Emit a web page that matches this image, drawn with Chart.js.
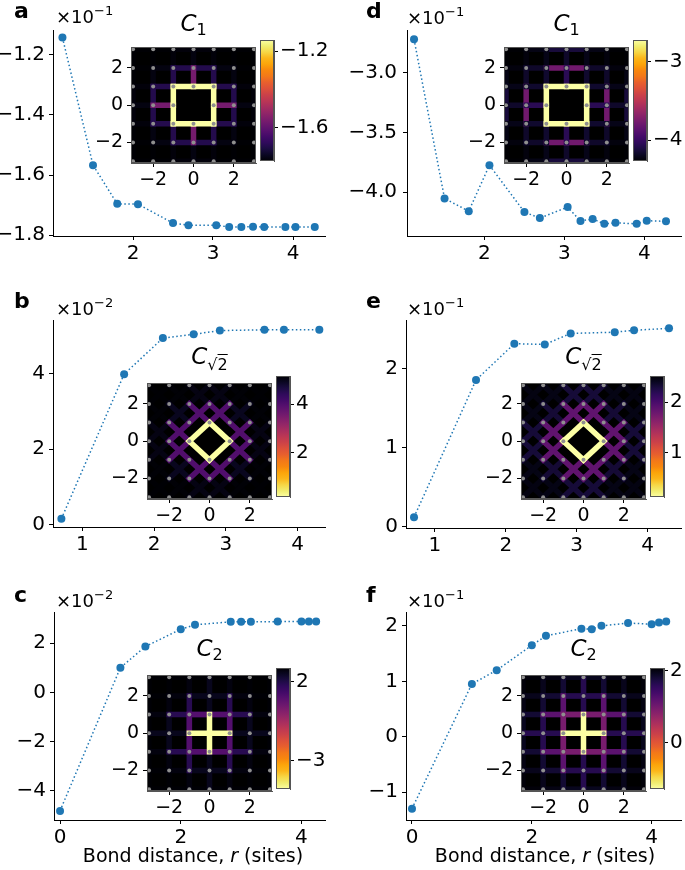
<!DOCTYPE html>
<html><head><meta charset="utf-8">
<script src="https://cdn.jsdelivr.net/npm/chart.js@4"></script>
<style>
body{margin:0;width:685px;height:870px;overflow:hidden;background:#fff;position:relative;font-family:'DejaVu Sans',sans-serif;}
canvas{position:absolute;}
.t{position:absolute;white-space:nowrap;color:#000;line-height:1;font-family:'DejaVu Sans',sans-serif;}
sub,sup{line-height:0;}
</style></head><body>
<script>
// ---------- data ----------
// C1 (panels a, d): bond distances and correlations
const rC1 = [1.118,1.5,1.803,2.062,2.5,2.693,3.041,3.202,3.354,3.5,3.64,3.905,4.031,4.272];
const valA = [-1.142,-1.567,-1.696,-1.697,-1.760,-1.767,-1.767,-1.773,-1.773,-1.772,-1.773,-1.773,-1.773,-1.773]; // x10^-1
const valD = [-2.72,-4.054,-4.16,-3.775,-4.168,-4.218,-4.126,-4.243,-4.225,-4.266,-4.258,-4.266,-4.24,-4.245]; // x10^-1
// C sqrt2 (panels b, e)
const rCs2 = [0.707,1.581,2.121,2.55,2.915,3.536,3.808,4.301];
const valB = [0.15,3.99,4.95,5.05,5.15,5.17,5.17,5.17]; // x10^-2
const valE = [0.12,1.86,2.32,2.31,2.45,2.465,2.49,2.515]; // x10^-1
// C2 (panels c, f)
const rC2 = [0,1,1.414,2,2.236,2.828,3,3.162,3.606,4,4.123,4.243];
const valC = [-4.81,1.0,1.86,2.56,2.74,2.86,2.86,2.86,2.87,2.87,2.87,2.87]; // x10^-2
const valF = [-1.295,0.953,1.2,1.65,1.82,1.95,1.94,2.0,2.05,2.03,2.06,2.08]; // x10^-1
// tick labels
const xTicksTop = [2,3,4], xTicksMid = [1,2,3,4], xTicksBot = [0,2,4];
const yTicksA = [-1.8,-1.6,-1.4,-1.2], yTicksD = [-4.0,-3.5,-3.0];
const yTicksB = [0,2,4], yTicksE = [0,1,2], yTicksC = [-4,-2,0,2], yTicksF = [-1,0,1,2];
const cbTicksA = [-1.6,-1.2], cbTicksD = [-4,-3], cbTicksB = [2,4], cbTicksE = [1,2], cbTicksC = [-3,2], cbTicksF = [0,2];
const insetTicks = [-2,0,2];

// ---------- helpers ----------
const BLUE = '#1f77b4';
const FONT = "'DejaVu Sans'";
const INF = ['#000004','#0a0722','#1b0c41','#2f0a5b','#420a68','#57106e','#6a176e','#7f1e6c','#932667','#a82e5f','#bc3754','#cc4248','#dd513a','#e8602d','#f37819','#f8870e','#fca50a','#fbb61a','#f6d746','#f1ed71','#fcffa4'];
function hex(h){return [parseInt(h.slice(1,3),16),parseInt(h.slice(3,5),16),parseInt(h.slice(5,7),16)];}
function inferno(t){
  t=Math.max(0,Math.min(1,t)); const f=t*(INF.length-1); const i=Math.min(INF.length-2,Math.floor(f)); const u=f-i;
  const a=hex(INF[i]), b=hex(INF[i+1]);
  return 'rgb('+a.map((x,k)=>Math.round(x+(b[k]-x)*u)).join(',')+')';
}
function mkCanvas(left,top,w,h){
  const c=document.createElement('canvas'); c.width=w; c.height=h;
  c.style.left=left+'px'; c.style.top=top+'px'; c.style.width=w+'px'; c.style.height=h+'px';
  document.body.appendChild(c); return c;
}
function fmt(dec){return v=>(v<0?'\u2212':'')+Math.abs(v).toFixed(dec);}
function txt(html,left,top,size,css){
  const d=document.createElement('div'); d.className='t'; d.innerHTML=html;
  d.style.left=left+'px'; d.style.top=top+'px'; d.style.fontSize=size+'px';
  if(css) d.style.cssText+=css; document.body.appendChild(d); return d;
}
function tickGrid(){return {display:true,drawOnChartArea:false,drawTicks:true,tickLength:4,color:'#000',lineWidth:1};}

function mainChart(p){
  const c=mkCanvas(p.left,p.top,p.w,p.h);
  const yw=p.areaL-p.left, pt=p.areaT-p.top, pr=p.left+p.w-p.areaR, xh=p.top+p.h-p.areaB;
  new Chart(c,{type:'scatter',
    data:{datasets:[{data:p.r.map((x,i)=>({x:x,y:p.v[i]})),showLine:true,borderColor:BLUE,borderWidth:1.5,borderDash:[1.5,2.5],
      pointRadius:4,pointBackgroundColor:BLUE,pointBorderColor:BLUE,pointBorderWidth:0,clip:false}]},
    options:{responsive:false,animation:false,events:[],devicePixelRatio:1,
      layout:{padding:{left:0,top:pt,right:pr,bottom:0}},
      plugins:{legend:{display:false},tooltip:{enabled:false}},
      scales:{
        x:{type:'linear',min:p.xmin,max:p.xmax,afterFit:s=>{s.height=xh;},afterBuildTicks:s=>{s.ticks=p.xt.map(v=>({value:v}));},
          ticks:{autoSkip:false,maxRotation:0,color:'#000',font:{family:FONT,size:20},padding:2,callback:fmt(0)},
          grid:tickGrid(),border:{display:true,color:'#000',width:1}},
        y:{type:'linear',min:p.ymin,max:p.ymax,afterFit:s=>{s.width=yw;},afterBuildTicks:s=>{s.ticks=p.yt.map(v=>({value:v}));},
          ticks:{autoSkip:false,color:'#000',font:{family:FONT,size:20},padding:p.ypad||4,callback:fmt(p.dec||0)},
          grid:tickGrid(),border:{display:true,color:'#000',width:1}}
      }}});
}

function bondGeom(kind){
  const N=4, out=[];
  const steps = kind==='C1'?[[1,0],[0,1]]:kind==='Cs2'?[[1,1],[1,-1]]:[[2,0],[0,2]];
  for(let i=-N;i<=N;i++)for(let j=-N;j<=N;j++)for(const [dx,dy] of steps){
    const x2=i+dx,y2=j+dy;
    if(Math.abs(x2)>N||Math.abs(y2)>N) continue;
    if((i===0&&j===0)||(x2===0&&y2===0)) continue;
    out.push([i,j,x2,y2]);
  }
  return out;
}
function lookup(r,v,d){
  let best=0,bd=1e9;
  r.forEach((x,i)=>{const e=Math.abs(x-d); if(e<bd){bd=e;best=i;}});
  if(d>r[r.length-1]) return v[v.length-1];
  return v[best];
}
const frame={id:'frame',
  beforeDatasetsDraw(ch,args,o){ if(!o.bg) return; const {ctx,chartArea:a}=ch; ctx.save(); ctx.fillStyle=o.bg; ctx.fillRect(a.left,a.top,a.right-a.left,a.bottom-a.top); ctx.restore();},
  afterDraw(ch){const {ctx,chartArea:a}=ch; ctx.save(); ctx.strokeStyle='#555'; ctx.lineWidth=1; ctx.strokeRect(Math.round(a.left)+0.5,Math.round(a.top)+0.5,Math.round(a.right-a.left)-1,Math.round(a.bottom-a.top)-1); ctx.restore();}};

function inset(p){
  const yw=40,pt=6,pr=4,xh=32,S=p.S;
  const c=mkCanvas(p.areaL-yw,p.areaT-pt,yw+S+pr,pt+S+xh);
  const vmin=Math.min(...p.v), vmax=Math.max(...p.v);
  const sites=[]; for(let i=-3;i<=3;i++)for(let j=-3;j<=3;j++) if(i||j) sites.push({x:i,y:j});
  const list=bondGeom(p.kind).map(b=>({b:b,d:Math.hypot((b[0]+b[2])/2,(b[1]+b[3])/2)})).sort((a,b)=>a.d-b.d);
  const ds=[{data:sites,showLine:false,pointRadius:2,pointBackgroundColor:'#8f8f8f',pointBorderWidth:0}];
  list.forEach(o=>{
    const val=lookup(p.r,p.v,o.d); let t=(val-vmin)/(vmax-vmin); if(p.rev) t=1-t;
    ds.push({data:[{x:o.b[0],y:o.b[1]},{x:o.b[2],y:o.b[3]}],showLine:true,borderColor:inferno(t),borderWidth:5.5,borderCapStyle:'square',pointRadius:0,clip:0});
  });
  const ax=(which)=>({type:'linear',min:-3.1,max:3.1,
    afterFit:s=>{ if(which==='x') s.height=xh; else s.width=yw; },
    afterBuildTicks:s=>{s.ticks=insetTicks.map(v=>({value:v}));},
    ticks:{autoSkip:false,maxRotation:0,color:'#000',font:{family:FONT,size:19},padding:which==='x'?2:4,callback:fmt(0)},
    grid:tickGrid(),border:{display:true,color:'#555',width:1}});
  new Chart(c,{type:'scatter',data:{datasets:ds},
    options:{responsive:false,animation:false,events:[],devicePixelRatio:1,
      layout:{padding:{left:0,top:pt,right:pr,bottom:0}},
      plugins:{legend:{display:false},tooltip:{enabled:false},frame:{bg:'#000'}},
      scales:{x:ax('x'),y:ax('y')}},plugins:[frame]});
  // colorbar
  const cw=14, lw=70, cp=12, cl=p.areaL+S+3.5;
  const cc=mkCanvas(cl,p.areaT-cp,cw+lw,S+2*cp);
  new Chart(cc,{type:'bar',
    data:{labels:['cb'],datasets:[{data:[[vmin,vmax]],borderWidth:0,barPercentage:1,categoryPercentage:1,
      backgroundColor:(ctx)=>{const ch=ctx.chart,a=ch.chartArea; if(!a) return '#000';
        const g=ch.ctx.createLinearGradient(0,a.bottom,0,a.top);
        for(let k=0;k<=20;k++){const t=k/20; g.addColorStop(t,inferno(p.rev?1-t:t));} return g;}}]},
    options:{responsive:false,animation:false,events:[],devicePixelRatio:1,
      layout:{padding:{left:0,top:cp,right:0,bottom:cp}},
      plugins:{legend:{display:false},tooltip:{enabled:false},frame:{bg:null}},
      scales:{x:{display:false},
        y:{type:'linear',position:'right',min:vmin,max:vmax,afterFit:s=>{s.width=lw;},afterBuildTicks:s=>{s.ticks=p.cbt.map(v=>({value:v}));},
          ticks:{autoSkip:false,color:'#000',font:{family:FONT,size:20},padding:2,callback:fmt(p.cbdec||0)},
          grid:tickGrid(),border:{display:true,color:'#555',width:1}}}},plugins:[frame]});
}

// ---------- main panels ----------
mainChart({left:0,top:0,w:340,h:270,areaL:53,areaT:30,areaR:325,areaB:236,xmin:1.0,xmax:4.4,ymin:-1.803,ymax:-1.117,r:rC1,v:valA,xt:xTicksTop,yt:yTicksA,dec:1});
mainChart({left:340,top:0,w:345,h:270,areaL:407,areaT:30,areaR:683,areaB:236,xmin:1.03,xmax:4.46,ymin:-4.368,ymax:-2.643,r:rC1,v:valD,xt:xTicksTop,yt:yTicksD,dec:1,ypad:6});
mainChart({left:0,top:290,w:340,h:270,areaL:53,areaT:320,areaR:325,areaB:527,xmin:0.59,xmax:4.38,ymin:-0.07,ymax:5.43,r:rCs2,v:valB,xt:xTicksMid,yt:yTicksB});
mainChart({left:340,top:290,w:345,h:270,areaL:406,areaT:320,areaR:683,areaB:528,xmin:0.594,xmax:4.47,ymin:-0.017,ymax:2.62,r:rCs2,v:valE,xt:xTicksMid,yt:yTicksE});
mainChart({left:0,top:580,w:340,h:290,areaL:54,areaT:612,areaR:325,areaB:820,xmin:-0.1,xmax:4.39,ymin:-5.18,ymax:3.26,r:rC2,v:valC,xt:xTicksBot,yt:yTicksC});
mainChart({left:340,top:580,w:345,h:290,areaL:406,areaT:612,areaR:683,areaB:820,xmin:-0.1,xmax:4.49,ymin:-1.5,ymax:2.25,r:rC2,v:valF,xt:xTicksBot,yt:yTicksF});

// ---------- insets ----------
inset({areaL:131,areaT:38,S:125,kind:'C1',r:rC1,v:valA,rev:false,cbt:cbTicksA,cbdec:1});
inset({areaL:504,areaT:38,S:125,kind:'C1',r:rC1,v:valD,rev:false,cbt:cbTicksD});
inset({areaL:147,areaT:374,S:125,kind:'Cs2',r:rCs2,v:valB,rev:true,cbt:cbTicksB});
inset({areaL:521,areaT:374,S:125,kind:'Cs2',r:rCs2,v:valE,rev:true,cbt:cbTicksE});
inset({areaL:147,areaT:666,S:125,kind:'C2',r:rC2,v:valC,rev:true,cbt:cbTicksC});
inset({areaL:521,areaT:666,S:125,kind:'C2',r:rC2,v:valF,rev:true,cbt:cbTicksF});

// ---------- text ----------
const letters=[['a',14,0],['b',14,290],['c',14,584],['d',366,0],['e',366,290],['f',366,584]];
letters.forEach(l=>txt(l[0],l[1],l[2],22,'font-weight:bold;'));
const mult=[['\u22121',56,8],['\u22122',56,300],['\u22122',56,592],['\u22121',407,9],['\u22121',407,300],['\u22121',407,592]];
mult.forEach(m=>txt('\u00d710<sup style="font-size:13px;vertical-align:8px">'+m[0]+'</sup>',m[1],m[2],18));
const sub1='<i>C</i><sub style="font-size:16px;vertical-align:-4px">1</sub>';
const subs2='<i>C</i><sub style="font-size:16px;vertical-align:-6px">\u221a<span style="text-decoration:overline">2</span></sub>';
const sub2='<i>C</i><sub style="font-size:16px;vertical-align:-4px">2</sub>';
[[sub1,131,12],[sub1,504,12],[subs2,147,345],[subs2,521,345],[sub2,147,637],[sub2,521,637]].forEach(t=>txt(t[0],t[1],t[2],23,'width:125px;text-align:center;'));
const xl='Bond distance, <i>r</i> (sites)';
txt(xl,0,846,19,'width:386px;text-align:center;');
txt(xl,340,846,19,'width:410px;text-align:center;');
</script>
</body></html>
